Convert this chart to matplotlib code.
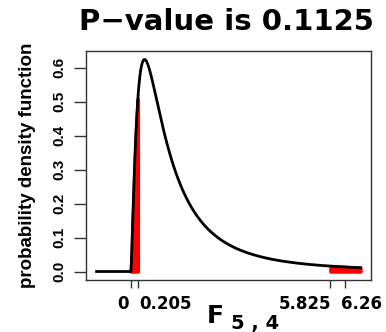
import numpy as np
import matplotlib
matplotlib.use("Agg")
import matplotlib.pyplot as plt
from matplotlib.transforms import ScaledTranslation
from math import gamma

# data
d1, d2 = 5, 4
x_start, x_end = -1.0, 6.7
lower_crit = 0.205
upper_crit = 5.825
xtick_vals = [0, 0.205, 5.825, 6.26]
xtick_labels = ["0", "0.205", "5.825", "6.26"]
ytick_vals = [0.0, 0.1, 0.2, 0.3, 0.4, 0.5, 0.6]
title = "P\u2212value is 0.1125"

def fpdf(x):
    x = np.asarray(x, dtype=float)
    out = np.zeros_like(x)
    m = x > 0
    B = gamma(d1 / 2) * gamma(d2 / 2) / gamma((d1 + d2) / 2)
    xm = x[m]
    out[m] = np.sqrt((d1 * xm) ** d1 * d2 ** d2 / (d1 * xm + d2) ** (d1 + d2)) / (xm * B)
    return out

WIDE = ['DejaVu Sans']
NARROW = ['Liberation Sans', 'DejaVu Sans']
plt.rcParams['font.family'] = NARROW
plt.rcParams['font.weight'] = 'bold'

W, H = 386, 332
fig = plt.figure(figsize=(W / 100, H / 100), dpi=100)
ax = fig.add_axes([86 / W, 1 - 280 / H, (371 - 86) / W, (280 - 51) / H])

xs = np.linspace(x_start, x_end, 2000)
ys = fpdf(xs)

xl = np.linspace(0, lower_crit, 200)
ax.fill_between(xl, 0, fpdf(xl), color='red', edgecolor='red', lw=2.5, zorder=2)
xr = np.linspace(upper_crit, x_end, 200)
ax.fill_between(xr, 0, fpdf(xr), color='red', edgecolor='red', lw=2.5, zorder=2)

ax.plot(xs, ys, color='black', lw=2, zorder=3)

rng = x_end - x_start
ax.set_xlim(x_start - 0.04 * rng, x_end + 0.04 * rng)
ymax = ys.max()
ax.set_ylim(-0.04 * ymax, ymax * 1.04)

ax.tick_params(axis='x', length=6, width=1, pad=5, color='#333333')
ax.tick_params(axis='y', length=9, width=1, pad=5, color='#333333')

ax.set_xticks(xtick_vals)
ax.set_xticklabels(xtick_labels, fontsize=12, fontweight='bold', family=WIDE)
has = ['right', 'left', 'right', 'left']
dxs = [-2, 1, 1, -4]
for lab, ha, dx in zip(ax.get_xticklabels(), has, dxs):
    lab.set_ha(ha)
    lab.set_transform(lab.get_transform() + ScaledTranslation(dx / 100, 0, fig.dpi_scale_trans))
ax.set_yticks(ytick_vals)
ax.set_yticklabels([f"{v:.1f}" for v in ytick_vals], fontsize=11, fontweight='bold',
                   rotation=90, va='center', family=NARROW)
for s in ax.spines.values():
    s.set_linewidth(1)
    s.set_color('#333333')

fig.text(28 / W, 1 - 165.5 / H, "probability density function", fontsize=13.5,
         fontweight='bold', rotation=90, ha='center', va='center', family=NARROW)
fig.text(226 / W, 1 - 30 / H, title, fontsize=21, fontweight='bold',
         ha='center', va='baseline', family=WIDE)

fig.text(207 / W, 1 - 323 / H, "F", fontsize=18, fontweight='bold', ha='left',
         va='baseline', family=WIDE)
fig.text(231 / W, 1 - 329 / H, "5 , 4", fontsize=14, fontweight='bold', ha='left',
         va='baseline', family=WIDE)

fig.savefig("out.png", dpi=100)
